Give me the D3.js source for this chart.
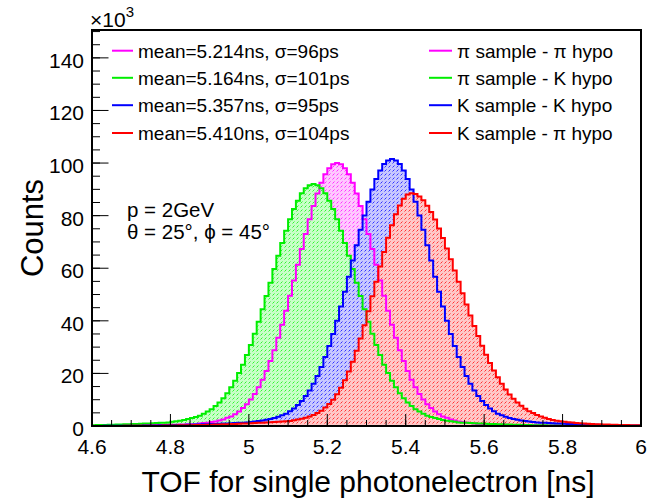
<!DOCTYPE html>
<html><head><meta charset="utf-8">
<script src="https://cdn.jsdelivr.net/npm/d3@7"></script>
<style>
body{margin:0;background:#fff}
svg{display:block}
text{font-family:"Liberation Sans",Arial,Helvetica,sans-serif;fill:#000}
</style>
</head><body>
<svg id="chart" width="651" height="501"></svg>
<script>
// Histogram binning: 140 bins of 0.01 ns starting at 4.6 ns; counts in units of 10^3
const binLow = 4.6;
const binWidth = 0.01;

// pi sample, pi hypothesis
const piSamplePiHypo = [
  0.09,0.10,0.11,0.12,0.14,0.15,0.16,0.18,0.19,0.21,
  0.23,0.25,0.27,0.29,0.32,0.34,0.37,0.40,0.42,0.46,
  0.49,0.52,0.56,0.59,0.63,0.67,0.71,0.95,1.1,1.2,
  1.5,1.7,2.1,2.5,3.1,3.6,4.5,5.5,6.8,8.3,
  10.1,12.2,14.7,17.6,20.9,24.7,28.8,33.6,38.5,43.8,
  49.5,55.3,61.3,67.3,73.0,78.6,83.7,88.4,92.5,95.7,
  98.0,99.5,100.0,99.5,98.0,95.7,92.5,88.4,83.7,78.6,
  73.0,67.3,61.3,55.3,49.5,43.8,38.5,33.6,28.8,24.7,
  20.9,17.6,14.7,12.2,10.1,8.3,6.8,5.5,4.5,3.6,
  3.1,2.5,2.1,1.7,1.5,1.2,1.1,0.95,0.71,0.67,
  0.63,0.59,0.56,0.52,0.49,0.46,0.42,0.40,0.37,0.34,
  0.32,0.29,0.27,0.25,0.23,0.21,0.19,0.18,0.16,0.15,
  0.14,0.12,0.11,0.10,0.09,0.08,0.07,0.06,0.05,0.05,
  0.04,0.04,0.03,0.03,0.03,0.02,0.02,0.02,0.02,0.01
];

// pi sample, K hypothesis
const piSampleKHypo = [
  0.32,0.36,0.39,0.42,0.46,0.50,0.54,0.58,0.64,0.68,
  0.74,0.79,0.85,0.91,0.98,1.04,1.11,1.19,1.26,1.34,
  1.66,1.85,2.0,2.3,2.7,3.0,3.4,3.9,4.7,5.5,
  6.4,7.6,8.9,10.6,12.5,14.7,17.2,20.2,23.3,27.0,
  30.8,35.1,39.6,44.4,49.4,54.5,59.7,64.7,69.6,74.3,
  78.6,82.5,85.7,88.5,90.4,91.6,92.0,91.6,90.4,88.5,
  85.7,82.5,78.6,74.3,69.6,64.7,59.7,54.5,49.4,44.4,
  39.6,35.1,30.8,27.0,23.3,20.2,17.2,14.7,12.5,10.6,
  8.9,7.6,6.4,5.5,4.7,3.9,3.4,3.0,2.7,2.3,
  2.0,1.85,1.66,1.34,1.26,1.19,1.11,1.04,0.98,0.91,
  0.85,0.79,0.74,0.68,0.64,0.58,0.54,0.50,0.46,0.42,
  0.39,0.36,0.32,0.29,0.27,0.24,0.22,0.20,0.18,0.16,
  0.14,0.13,0.12,0.10,0.09,0.08,0.07,0.06,0.06,0.05,
  0.04,0.04,0.03,0.03,0.03,0.02,0.02,0.02,0.02,0.01
];

// K sample, K hypothesis
const kSampleKHypo = [
  0.03,0.04,0.04,0.05,0.06,0.06,0.07,0.08,0.09,0.10,
  0.12,0.13,0.14,0.16,0.18,0.20,0.22,0.24,0.27,0.29,
  0.32,0.36,0.39,0.42,0.46,0.50,0.54,0.58,0.64,0.68,
  0.74,0.79,0.85,0.91,0.98,1.04,1.11,1.19,1.26,1.34,
  1.5,1.7,1.9,2.1,2.4,2.7,3.0,3.5,4.1,4.7,
  5.6,6.7,8.0,9.5,11.4,13.5,16.1,19.0,22.4,26.2,
  30.4,35.0,40.0,45.4,51.1,56.8,62.9,68.7,74.6,80.1,
  85.3,89.9,93.9,97.2,99.6,101.0,101.5,101.0,99.6,97.2,
  93.9,89.9,85.3,80.1,74.6,68.7,62.9,56.8,51.1,45.4,
  40.0,35.0,30.4,26.2,22.4,19.0,16.1,13.5,11.4,9.5,
  8.0,6.7,5.6,4.7,4.1,3.5,3.0,2.7,2.4,2.1,
  1.9,1.7,1.5,1.34,1.26,1.19,1.11,1.04,0.98,0.91,
  0.85,0.79,0.74,0.68,0.64,0.58,0.54,0.50,0.46,0.42,
  0.39,0.36,0.32,0.29,0.27,0.24,0.22,0.20,0.18,0.16
];

// K sample, pi hypothesis
const kSamplePiHypo = [
  0.02,0.02,0.02,0.03,0.03,0.03,0.04,0.04,0.05,0.06,
  0.06,0.07,0.08,0.09,0.10,0.12,0.13,0.14,0.16,0.18,
  0.20,0.22,0.24,0.27,0.29,0.32,0.36,0.39,0.42,0.46,
  0.50,0.54,0.58,0.64,0.68,0.74,0.79,0.85,0.91,0.98,
  1.04,1.11,1.19,1.26,1.34,1.42,1.5,1.6,1.7,1.8,
  1.9,2.2,2.5,2.8,3.1,3.6,4.2,4.9,5.8,7.0,
  8.4,10.0,12.1,14.5,17.4,20.7,24.4,28.6,33.3,38.3,
  43.6,49.3,54.9,60.7,66.2,71.6,76.3,80.5,83.9,86.4,
  88.0,88.5,88.2,87.3,85.9,83.8,81.4,78.5,75.1,71.5,
  67.5,63.4,59.1,54.9,50.5,46.2,42.0,38.0,34.2,30.5,
  27.1,24.0,21.1,18.5,16.1,13.9,12.0,10.4,8.9,7.7,
  6.6,5.6,4.9,4.2,3.6,3.1,2.7,2.3,2.0,1.8,
  1.6,1.4,1.3,1.15,1.05,0.95,0.85,0.78,0.70,0.65,
  0.59,0.54,0.50,0.46,0.42,0.39,0.36,0.32,0.29,0.27
];

const seriesColors = ["#ff00ff", "#00ee00", "#0000ff", "#ff0000"];
const seriesTints  = ["#ffc8ff", "#c8ffc8", "#c8c8ff", "#ffc8c8"];
const fitLabels = [
  "mean=5.214ns, σ=96ps",
  "mean=5.164ns, σ=101ps",
  "mean=5.357ns, σ=95ps",
  "mean=5.410ns, σ=104ps"
];
const sampleLabels = [
  "π sample - π hypo",
  "π sample - K hypo",
  "K sample - K hypo",
  "K sample - π hypo"
];
const xTickValues = [4.6, 4.8, 5.0, 5.2, 5.4, 5.6, 5.8, 6.0];
const xTickLabels = ["4.6", "4.8", "5", "5.2", "5.4", "5.6", "5.8", "6"];
const yTickValues = [0, 20, 40, 60, 80, 100, 120, 140];

const series = [piSamplePiHypo, piSampleKHypo, kSampleKHypo, kSamplePiHypo].map((values, i) => ({
  id: "h" + i, values, color: seriesColors[i], tint: seriesTints[i]
}));

const svg = d3.select("#chart");
const frame = {left: 92, right: 641, top: 30, bottom: 426};

const x = d3.scaleLinear().domain([4.6, 6.0]).range([frame.left, frame.right]);
const y = d3.scaleLinear().domain([0, 150.6]).range([frame.bottom, frame.top]);

// hatched fill patterns, one per histogram
const defs = svg.append("defs");
series.forEach(s => {
  const p = defs.append("pattern")
    .attr("id", "fill-" + s.id)
    .attr("patternUnits", "userSpaceOnUse")
    .attr("width", 4).attr("height", 4);
  p.append("rect").attr("width", 4).attr("height", 4).attr("fill", s.tint);
  p.append("path").attr("d", "M0.5,3.5L2.5,1.5")
    .attr("stroke", s.color).attr("stroke-width", 1).attr("stroke-opacity", 0.75);
});
defs.append("clipPath").attr("id", "frameClip")
  .append("rect").attr("x", frame.left).attr("y", frame.top)
  .attr("width", frame.right - frame.left).attr("height", frame.bottom - frame.top);

// step points: left edge of each bin plus the closing edge
function stepPoints(values) {
  const pts = values.map((v, i) => [binLow + i * binWidth, v]);
  pts.push([binLow + values.length * binWidth, values[values.length - 1]]);
  return pts;
}
const area = d3.area().curve(d3.curveStepAfter)
  .x(d => x(d[0])).y0(y(0)).y1(d => y(d[1]));
const line = d3.line().curve(d3.curveStepAfter)
  .x(d => x(d[0])).y(d => y(d[1]));

const plot = svg.append("g").attr("clip-path", "url(#frameClip)");
series.forEach(s => {
  plot.append("path").attr("d", area(stepPoints(s.values)))
    .attr("fill", "url(#fill-" + s.id + ")");
});
series.forEach(s => {
  plot.append("path").attr("d", line(stepPoints(s.values)))
    .attr("fill", "none").attr("stroke", s.color).attr("stroke-width", 2);
});

// frame
svg.append("rect").attr("x", frame.left).attr("y", frame.top)
  .attr("width", frame.right - frame.left).attr("height", frame.bottom - frame.top)
  .attr("fill", "none").attr("stroke", "#000").attr("stroke-width", 2);

// x axis: ticks pointing into the frame
const xMinor = d3.range(4.6, 6.0001, 0.05);
const xAxisG = svg.append("g");
xAxisG.selectAll("line.minor").data(xMinor).join("line")
  .attr("x1", d => x(d)).attr("x2", d => x(d))
  .attr("y1", frame.bottom).attr("y2", frame.bottom - 6)
  .attr("stroke", "#000").attr("stroke-width", 1);
xAxisG.selectAll("line.major").data(xTickValues).join("line")
  .attr("x1", d => x(d)).attr("x2", d => x(d))
  .attr("y1", frame.bottom).attr("y2", frame.bottom - 12)
  .attr("stroke", "#000").attr("stroke-width", 1);
xAxisG.selectAll("text").data(xTickValues).join("text")
  .attr("x", d => x(d)).attr("y", frame.bottom + 28)
  .attr("text-anchor", "middle").attr("font-size", 21)
  .text((d, i) => xTickLabels[i]);

// y axis
const yMinor = d3.range(0, 150.1, 5);
const yAxisG = svg.append("g");
yAxisG.selectAll("line.minor").data(yMinor).join("line")
  .attr("x1", frame.left).attr("x2", frame.left + 8)
  .attr("y1", d => y(d)).attr("y2", d => y(d))
  .attr("stroke", "#000").attr("stroke-width", 1);
yAxisG.selectAll("line.major").data(yTickValues).join("line")
  .attr("x1", frame.left).attr("x2", frame.left + 16.5)
  .attr("y1", d => y(d)).attr("y2", d => y(d))
  .attr("stroke", "#000").attr("stroke-width", 1);
yAxisG.selectAll("text").data(yTickValues).join("text")
  .attr("x", frame.left - 8).attr("y", d => y(d) + 10)
  .attr("text-anchor", "end").attr("font-size", 21)
  .text(d => d);

// exponent
const expo = svg.append("text").attr("x", 90).attr("y", 27).attr("font-size", 21);
expo.append("tspan").text("×10");
expo.append("tspan").attr("font-size", 15).attr("dy", -10).text("3");

// axis titles
svg.append("text").attr("x", 368).attr("y", 492)
  .attr("text-anchor", "middle").attr("font-size", 30)
  .text("TOF for single photonelectron [ns]");
svg.append("text").attr("transform", "translate(43,228) rotate(-90)")
  .attr("text-anchor", "middle").attr("font-size", 31)
  .text("Counts");

// legends
const rowY = [50.7, 77.8, 105.2, 133];
const legendL = svg.append("g");
fitLabels.forEach((t, i) => {
  legendL.append("line").attr("x1", 112).attr("x2", 133).attr("y1", rowY[i]).attr("y2", rowY[i])
    .attr("stroke", seriesColors[i]).attr("stroke-width", 2);
  legendL.append("text").attr("x", 138).attr("y", rowY[i] + 7).attr("font-size", 19).text(t);
});
const legendR = svg.append("g");
sampleLabels.forEach((t, i) => {
  legendR.append("line").attr("x1", 429).attr("x2", 452).attr("y1", rowY[i]).attr("y2", rowY[i])
    .attr("stroke", seriesColors[i]).attr("stroke-width", 2);
  legendR.append("text").attr("x", 457).attr("y", rowY[i] + 7).attr("font-size", 19).text(t);
});

// kinematics annotation
svg.append("text").attr("x", 127).attr("y", 217).attr("font-size", 20.5).text("p = 2GeV");
svg.append("text").attr("x", 127).attr("y", 239).attr("font-size", 20.5).text("θ = 25°, ϕ = 45°");
</script>
</body></html>
